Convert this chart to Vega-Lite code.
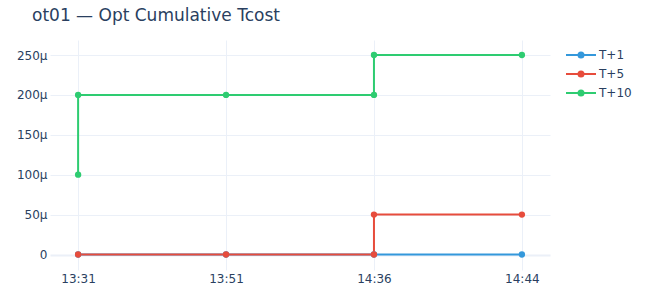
{
  "$schema": "https://vega.github.io/schema/vega-lite/v6.json",
  "width": 500,
  "height": 230,
  "autosize": {"type": "none"},
  "padding": {"left": 50, "top": 40, "right": 100, "bottom": 30},
  "background": "white",
  "title": {
    "text": "ot01 — Opt Cumulative Tcost",
    "anchor": "start",
    "frame": "group",
    "dx": -18,
    "offset": 2,
    "baseline": "alphabetic",
    "font": "DejaVu Sans",
    "fontSize": 17,
    "fontWeight": "normal",
    "color": "#2a3f5f"
  },
  "config": {
    "view": {"stroke": null},
    "font": "DejaVu Sans"
  },
  "data": {
    "values": [
      {"series": "T+1", "i": 0, "t": "13:31", "v": 0},
      {"series": "T+1", "i": 1, "t": "13:51", "v": 0},
      {"series": "T+1", "i": 2, "t": "14:36", "v": 0},
      {"series": "T+1", "i": 3, "t": "14:44", "v": 0},
      {"series": "T+5", "i": 0, "t": "13:31", "v": 0},
      {"series": "T+5", "i": 1, "t": "13:51", "v": 0},
      {"series": "T+5", "i": 2, "t": "14:36", "v": 0},
      {"series": "T+5", "i": 3, "t": "14:36", "v": 0.00005},
      {"series": "T+5", "i": 4, "t": "14:44", "v": 0.00005},
      {"series": "T+10", "i": 0, "t": "13:31", "v": 0.0001},
      {"series": "T+10", "i": 1, "t": "13:31", "v": 0.0002},
      {"series": "T+10", "i": 2, "t": "13:51", "v": 0.0002},
      {"series": "T+10", "i": 3, "t": "14:36", "v": 0.0002},
      {"series": "T+10", "i": 4, "t": "14:36", "v": 0.00025},
      {"series": "T+10", "i": 5, "t": "14:44", "v": 0.00025}
    ]
  },
  "encoding": {
    "x": {
      "field": "t",
      "type": "ordinal",
      "sort": ["13:31", "13:51", "14:36", "14:44"],
      "scale": {"type": "point", "padding": 0.19},
      "axis": {
        "title": null,
        "labelAngle": 0,
        "domain": false,
        "ticks": false,
        "labelPadding": 3,
        "labelFontSize": 12,
        "labelColor": "#2a3f5f",
        "labelFont": "DejaVu Sans",
        "grid": true,
        "gridColor": "#EBF0F8",
        "gridWidth": 1
      }
    },
    "y": {
      "field": "v",
      "type": "quantitative",
      "scale": {"domain": [-0.0000194, 0.0002688], "nice": false, "zero": false},
      "axis": {
        "title": null,
        "values": [0, 0.00005, 0.0001, 0.00015, 0.0002, 0.00025],
        "labelExpr": "datum.value == 0 ? '0' : format(datum.value * 1000000, 'd') + 'μ'",
        "domain": false,
        "ticks": false,
        "labelPadding": 3,
        "labelFontSize": 12,
        "labelColor": "#2a3f5f",
        "labelFont": "DejaVu Sans",
        "gridColor": "#EBF0F8",
        "gridWidth": {"expr": "datum.value == 0 ? 2 : 1"}
      }
    },
    "color": {
      "field": "series",
      "type": "nominal",
      "scale": {
        "domain": ["T+1", "T+5", "T+10"],
        "range": ["#3498db", "#e74c3c", "#2ecc71"]
      },
      "legend": {
        "title": null,
        "orient": "none",
        "legendX": 525,
        "legendY": 9,
        "padding": 0,
        "symbolType": "M-3,0H3M-0.5,0A0.5,0.5 0 1,1 0.5,0A0.5,0.5 0 1,1 -0.5,0M-0.2,0A0.2,0.2 0 1,1 0.2,0A0.2,0.2 0 1,1 -0.2,0",
        "symbolSize": 100,
        "symbolStrokeWidth": 2,
        "symbolOpacity": 1,
        "labelOffset": 12,
        "labelFontSize": 12,
        "labelColor": "#2a3f5f",
        "labelFont": "DejaVu Sans",
        "rowPadding": 5
      }
    },
    "order": {"field": "i", "type": "quantitative"}
  },
  "layer": [
    {"mark": {"type": "line", "strokeWidth": 2}},
    {"mark": {"type": "point", "filled": true, "size": 40, "opacity": 1}}
  ]
}
